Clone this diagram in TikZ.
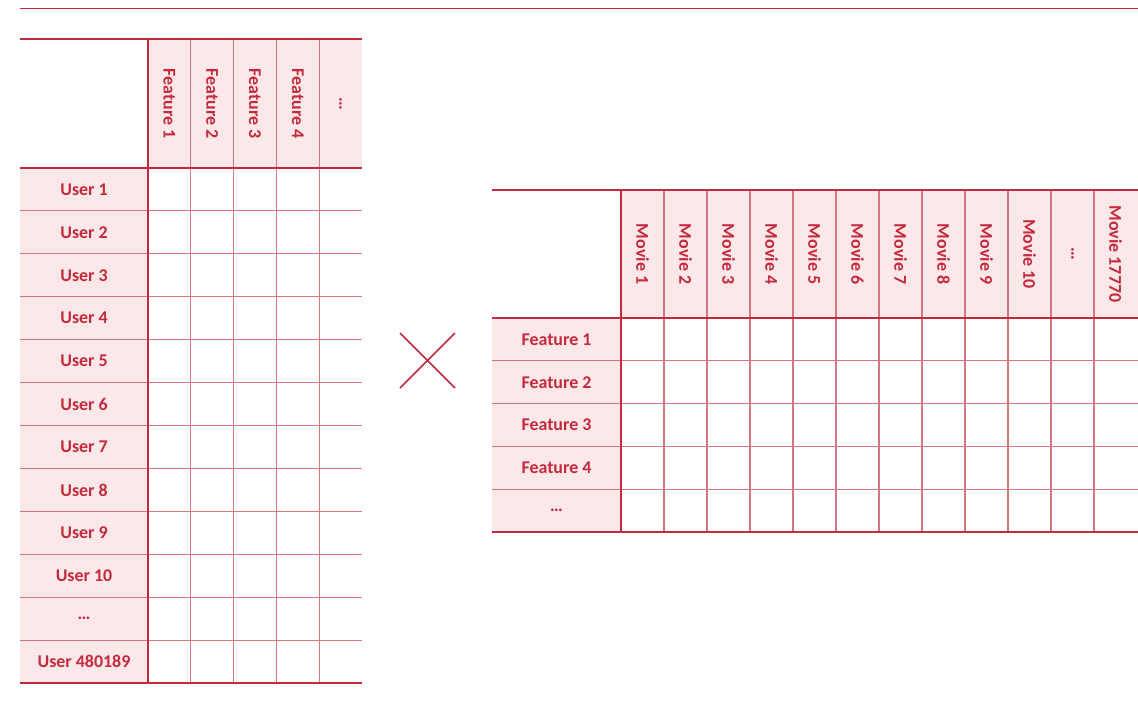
\documentclass[tikz,border=0pt]{standalone}
\usepackage{fontspec}
\setmainfont{Carlito}
\usepackage{xcolor}
\definecolor{myred}{HTML}{C42A3E}
\definecolor{mylight}{HTML}{D57684}
\definecolor{mypink}{HTML}{FCE8E8}
\usetikzlibrary{calc}

\begin{document}
\begin{tikzpicture}[x=0.02cm,y=-0.02cm,
    font=\fontsize{10.2}{12}\selectfont\bfseries,
    lbl/.style={text=myred,inner sep=0pt},
    hdr/.style={lbl,rotate=-90},
    thin/.style={mylight,line width=0.6pt},
    thick/.style={myred,line width=0.85pt}]
        \useasboundingbox (0,0) rectangle (1138,708);
        \draw[myred,line width=0.55pt] (20,8) -- (1138,8);
        \fill[mypink] (148,39) rectangle (362,168);
        \fill[mypink] (20,168) rectangle (148,683);
        \draw[thin] foreach \i in {1,...,11}{(20,168+\i*42.92) -- (362,168+\i*42.92)};
        \draw[thin] foreach \j in {1,...,4}{(148+\j*42.8,39) -- (148+\j*42.8,683)};
        \draw[thick] (20,39) -- (362,39) (20,168) -- (362,168) (148,39) -- (148,683);
        \draw[myred,line width=0.6pt] (20,683) -- (362,683);
        \foreach \t [count=\i] in {Feature 1,Feature 2,Feature 3,Feature 4,\dots}
          \node[hdr] (f\i) at (148+\i*42.8-21.4,103.5) {\t};
        \foreach \t [count=\i] in {User 1,User 2,User 3,User 4,User 5,User 6,User 7,User 8,User 9,User 10,\dots,User 480189}
          \node[lbl] (u\i) at (84,168+\i*42.92-21.46) {\t};
        \draw[myred,line width=0.85pt] (400,333) -- (455,388) (400,388) -- (455,333);
        \fill[mypink] (621,190) rectangle (1138,318);
        \fill[mypink] (492,318) rectangle (621,532);
        \draw[thin] foreach \i in {1,...,4}{(492,318+\i*42.8) -- (1138,318+\i*42.8)};
        \draw[thin] foreach \j in {1,...,11}{(621+\j*43,190) -- (621+\j*43,532)};
        \draw[thick] (492,190) -- (1138,190) (492,318) -- (1138,318) (621,190) -- (621,532);
        \draw[myred,line width=0.6pt] (492,532) -- (1138,532);
        \foreach \t [count=\i] in {Movie 1,Movie 2,Movie 3,Movie 4,Movie 5,Movie 6,Movie 7,Movie 8,Movie 9,Movie 10,\dots,Movie 17770}
          \node[hdr] (m\i) at (621+\i*43-21.5,254) {\t};
        \foreach \t [count=\i] in {Feature 1,Feature 2,Feature 3,Feature 4,\dots}
          \node[lbl] (r\i) at (556.5,318+\i*42.8-21.4) {\t};
      \end{tikzpicture}
\end{document}
